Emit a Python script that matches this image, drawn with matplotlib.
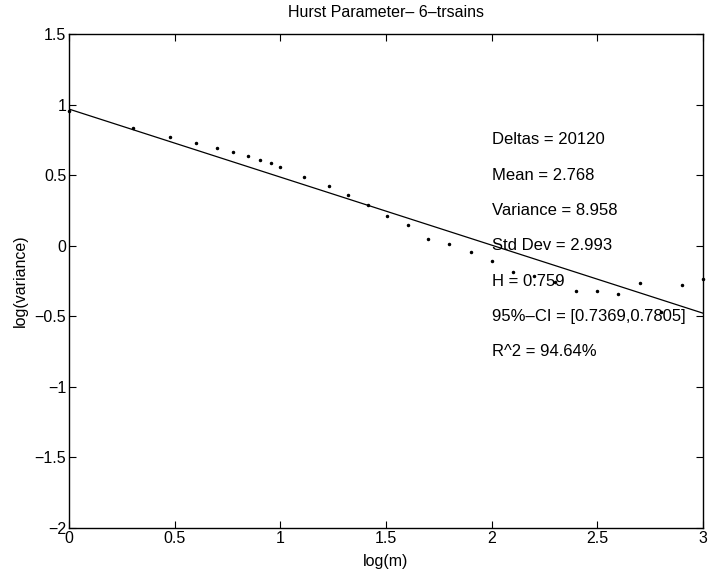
#!/usr/bin/env python3
# -- coding: utf-8 --
import numpy as np
import matplotlib
matplotlib.use('Agg')
import matplotlib.pyplot as plt

plt.rcParams['font.family'] = ['Liberation Sans', 'DejaVu Sans']

# log(m) vs log(variance)
log_m = [0.0, 0.301, 0.477, 0.602, 0.699, 0.778, 0.845, 0.903, 0.954, 1.0,
         1.114, 1.230, 1.322, 1.415, 1.505, 1.602, 1.699, 1.799, 1.903, 2.0,
         2.1, 2.2, 2.3, 2.4, 2.5, 2.6, 2.7, 2.8, 2.9, 3.0]
log_var = [0.953, 0.832, 0.769, 0.726, 0.690, 0.662, 0.634, 0.605, 0.584, 0.555,
           0.485, 0.420, 0.357, 0.286, 0.214, 0.150, 0.051, 0.009, -0.048, -0.105,
           -0.183, -0.218, -0.254, -0.318, -0.318, -0.339, -0.261, -0.467, -0.276, -0.233]

# fitted line
fit_intercept = 0.968
fit_slope = -0.482

stats_labels = ['Deltas = 20120', 'Mean = 2.768', 'Variance = 8.958',
                'Std Dev = 2.993', 'H = 0.759', '95%\u2013CI = [0.7369,0.7805]',
                'R^2 = 94.64%']
stats_y = [0.75, 0.5, 0.25, 0.0, -0.25, -0.5, -0.75]

fig = plt.figure(figsize=(7.09, 5.79), dpi=100)
ax = fig.add_axes([69 / 709, 1 - 528 / 579, 634 / 709, 494 / 579])

ax.plot(log_m, log_var, 'k.', markersize=3, clip_on=False, zorder=3)
xl = np.array([0, 3])
ax.plot(xl, fit_intercept + fit_slope * xl, 'k-', linewidth=0.9)

for lbl, yy in zip(stats_labels, stats_y):
    ax.text(2.0, yy, lbl, fontsize=12, va='center', ha='left')

ax.set_xlim(0, 3)
ax.set_ylim(-2, 1.5)
ax.set_xticks([0, 0.5, 1, 1.5, 2, 2.5, 3])
ax.set_xticklabels(['0', '0.5', '1', '1.5', '2', '2.5', '3'])
ax.set_yticks([-2, -1.5, -1, -0.5, 0, 0.5, 1, 1.5])
ax.set_yticklabels(['\u22122', '\u22121.5', '\u22121', '\u22120.5', '0', '0.5', '1', '1.5'])
ax.tick_params(direction='in', top=True, right=True, length=5, labelsize=11.5, pad=2)
for s in ax.spines.values():
    s.set_linewidth(1.0)

ax.set_xlabel('log(m)', fontsize=11.5, labelpad=6)
ax.set_ylabel('log(variance)', fontsize=11.5, labelpad=5)
ax.set_title('Hurst Parameter\u2013 6\u2013trsains', fontsize=11.5, pad=12)

fig.savefig('out.png', dpi=100)
